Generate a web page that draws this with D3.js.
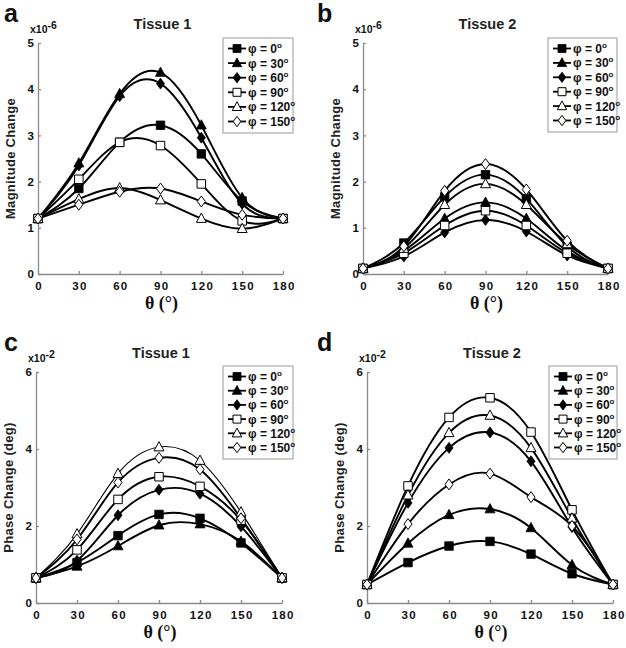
<!DOCTYPE html>
<html><head><meta charset="utf-8">
<script src="https://cdn.jsdelivr.net/npm/d3@7"></script>
<style>body{margin:0;background:#fff}svg{display:block}</style>
</head><body>
<svg id="chart" width="626" height="648"></svg>
<script>
// ---------- data ----------
const thetas = [0, 30, 60, 90, 120, 150, 180];
const xTicks = [0, 30, 60, 90, 120, 150, 180];
const phiLabels = ["φ = 0", "φ = 30", "φ = 60", "φ = 90", "φ = 120", "φ = 150"];
const markerTypes = ["square-filled", "triangle-filled", "diamond-filled", "square-open", "triangle-open", "diamond-open"];
const magTicks = [0, 1, 2, 3, 4, 5];
const phaseTicks = [0, 2, 4, 6];

// Magnitude change, tissue 1 (x10^-6), one row per phi
const magTissue1 = [
  [1.2, 1.85, 2.85, 3.22, 2.6, 1.58, 1.2],
  [1.2, 2.4, 3.9, 4.36, 3.22, 1.65, 1.2],
  [1.2, 2.35, 3.85, 4.12, 2.95, 1.52, 1.2],
  [1.2, 2.05, 2.85, 2.78, 1.95, 1.15, 1.2],
  [1.2, 1.62, 1.86, 1.6, 1.2, 0.98, 1.2],
  [1.2, 1.5, 1.78, 1.85, 1.57, 1.28, 1.2]
];
// Magnitude change, tissue 2 (x10^-6)
const magTissue2 = [
  [0.12, 0.67, 1.67, 2.15, 1.63, 0.6, 0.12],
  [0.12, 0.5, 1.2, 1.55, 1.2, 0.5, 0.12],
  [0.12, 0.38, 0.9, 1.17, 0.92, 0.4, 0.12],
  [0.12, 0.45, 1.05, 1.37, 1.05, 0.45, 0.12],
  [0.12, 0.55, 1.5, 1.95, 1.5, 0.65, 0.12],
  [0.12, 0.6, 1.8, 2.38, 1.83, 0.72, 0.12]
];
// Phase change, tissue 1 (x10^-2 deg)
const phaseTissue1 = [
  [0.65, 1.05, 1.75, 2.3, 2.2, 1.56, 0.65],
  [0.65, 0.95, 1.48, 2.02, 2.05, 1.6, 0.65],
  [0.65, 1.1, 2.28, 2.94, 2.84, 1.99, 0.65],
  [0.65, 1.38, 2.69, 3.28, 3.03, 2.15, 0.65],
  [0.65, 1.79, 3.36, 4.05, 3.7, 2.36, 0.65],
  [0.65, 1.65, 3.13, 3.77, 3.47, 2.2, 0.65]
];
// Phase change, tissue 2 (x10^-2 deg)
const phaseTissue2 = [
  [0.48, 1.05, 1.48, 1.6, 1.27, 0.76, 0.48],
  [0.48, 1.55, 2.29, 2.44, 1.95, 0.99, 0.48],
  [0.48, 2.6, 4.03, 4.43, 3.68, 1.97, 0.48],
  [0.48, 3.04, 4.82, 5.33, 4.44, 2.42, 0.48],
  [0.48, 2.8, 4.42, 4.87, 4.03, 2.2, 0.48],
  [0.48, 2.05, 3.08, 3.36, 2.75, 2.0, 0.48]
];

const panels = [
  {letter: "a", title: "Tissue 1", ylabel: "Magnitude Change", exp: "-6", ymax: 5, yticks: magTicks, data: magTissue1,
   x0: 38, x1: 283, yT: 43, yB: 274, lx: 223, ly: 38, lw: 70, lh: 95, ox: 0, oy: 0},
  {letter: "b", title: "Tissue 2", ylabel: "Magnitude Change", exp: "-6", ymax: 5, yticks: magTicks, data: magTissue2,
   x0: 363, x1: 608, yT: 43, yB: 274, lx: 548, ly: 38, lw: 69, lh: 94, ox: 313, oy: 0},
  {letter: "c", title: "Tissue 1", ylabel: "Phase Change (deg)", exp: "-2", ymax: 6, yticks: phaseTicks, data: phaseTissue1,
   x0: 36, x1: 282, yT: 372, yB: 603, lx: 223, ly: 366, lw: 70, lh: 93, ox: 0, oy: 329, thin: 4},
  {letter: "d", title: "Tissue 2", ylabel: "Phase Change (deg)", exp: "-2", ymax: 6, yticks: phaseTicks, data: phaseTissue2,
   x0: 367, x1: 613, yT: 372, yB: 603, lx: 549, ly: 366, lw: 68, lh: 93, ox: 313, oy: 329}
];

const svg = d3.select("#chart");
const SANS = "Liberation Sans, Arial, sans-serif";
const SERIF = "Liberation Serif, Times New Roman, serif";
const AXIS = "#8a8a8a";

function markerPath(type, s) {
  const h = s / 2;
  if (type.startsWith("square")) return `M${-h},${-h}H${h}V${h}H${-h}Z`;
  if (type.startsWith("triangle")) return `M0,${-h * 1.15}L${h * 1.05},${h * 0.8}L${-h * 1.05},${h * 0.8}Z`;
  return `M0,${-h * 1.15}L${h * 0.85},0L0,${h * 1.15}L${-h * 0.85},0Z`;
}
function drawMarker(g, type, x, y, s) {
  const filled = type.endsWith("filled");
  g.append("path").attr("d", markerPath(type, s)).attr("transform", `translate(${x},${y})`)
    .attr("fill", filled ? "#000" : "#fff").attr("stroke", "#000")
    .attr("stroke-width", filled ? 0.8 : 1);
}

panels.forEach(p => {
  const g = svg.append("g");
  const x = d3.scaleLinear().domain([0, 180]).range([p.x0, p.x1]);
  const y = d3.scaleLinear().domain([0, p.ymax]).range([p.yB, p.yT]);

  // axes
  const xa = g.append("g").attr("transform", `translate(0,${p.yB})`)
    .call(d3.axisBottom(x).tickValues(xTicks).tickFormat(d3.format("d")).tickSize(-3).tickSizeOuter(0));
  const ya = g.append("g").attr("transform", `translate(${p.x0},0)`)
    .call(d3.axisLeft(y).tickValues(p.yticks).tickFormat(d3.format("d")).tickSize(-3).tickSizeOuter(0).tickPadding(4));
  [xa, ya].forEach(a => {
    a.select(".domain").attr("stroke", AXIS).attr("stroke-width", 1.3);
    a.selectAll(".tick line").attr("stroke", AXIS).attr("stroke-width", 1.3);
    a.selectAll(".tick text").attr("fill", "#111").attr("font-family", SANS)
      .attr("font-weight", "bold").attr("font-size", 11.5);
  });
  xa.selectAll(".tick text").attr("y", 15.5).attr("dy", 0).attr("letter-spacing", 1.3).attr("dx", 0.7);

  // curves
  const line = d3.line().x((d, i) => x(thetas[i])).y(d => y(d)).curve(d3.curveNatural);
  p.data.forEach((vals, k) => {
    g.append("path").attr("d", line(vals)).attr("fill", "none").attr("stroke", "#000")
      .attr("stroke-width", p.thin === k ? 1.1 : 1.9);
  });
  p.data.forEach((vals, k) => {
    vals.forEach((v, i) => drawMarker(g, markerTypes[k], x(thetas[i]), y(v), k === 0 || k === 3 ? 8.5 : 9.5));
  });

  // labels
  g.append("text").attr("x", p.ox + 4).attr("y", p.oy + 22).text(p.letter)
    .attr("font-family", SANS).attr("font-weight", "bold").attr("font-size", 25).attr("fill", "#111");
  g.append("text").attr("x", (p.x0 + p.x1) / 2 + 2).attr("y", p.yT - 14).attr("text-anchor", "middle")
    .text(p.title).attr("font-family", SANS).attr("font-weight", "bold").attr("font-size", 14.5).attr("fill", "#222");
  const ex = g.append("text").attr("x", p.x0 - 8).attr("y", p.yT - 10)
    .attr("font-family", SANS).attr("font-weight", "bold").attr("font-size", 10.5).attr("fill", "#111");
  ex.append("tspan").text("x10");
  ex.append("tspan").attr("dy", -4).text(p.exp);
  g.append("text").attr("transform", `translate(${p.x0 - 23},${(p.yT + p.yB) / 2}) rotate(-90)`)
    .attr("text-anchor", "middle").text(p.ylabel)
    .attr("font-family", SANS).attr("font-weight", "bold").attr("font-size", 13).attr("letter-spacing", 0.3).attr("fill", "#222");
  g.append("text").attr("x", (p.x0 + p.x1) / 2 + 1).attr("y", p.yB + 35).attr("text-anchor", "middle")
    .text("θ (°)").attr("font-family", SERIF).attr("font-weight", "bold").attr("font-size", 18).attr("fill", "#111");

  // legend
  const lg = g.append("g");
  lg.append("rect").attr("x", p.lx).attr("y", p.ly).attr("width", p.lw).attr("height", p.lh)
    .attr("fill", "#fff").attr("stroke", "#999").attr("stroke-width", 1);
  const step = (p.lh - 22) / 5;
  phiLabels.forEach((lab, k) => {
    const cy = p.ly + 10.5 + k * step;
    lg.append("line").attr("x1", p.lx + 5).attr("x2", p.lx + 23).attr("y1", cy).attr("y2", cy)
      .attr("stroke", "#000").attr("stroke-width", 1.8);
    drawMarker(lg, markerTypes[k], p.lx + 14, cy, k === 0 || k === 3 ? 8 : 9);
    const t = lg.append("text").attr("x", p.lx + 25).attr("y", cy + 4.5)
      .attr("font-family", SANS).attr("font-weight", "bold").attr("font-size", 12).attr("fill", "#111");
    t.append("tspan").text(lab);
    t.append("tspan").attr("dy", -5).attr("font-size", 8).text("o");
  });
});
</script>
</body></html>
